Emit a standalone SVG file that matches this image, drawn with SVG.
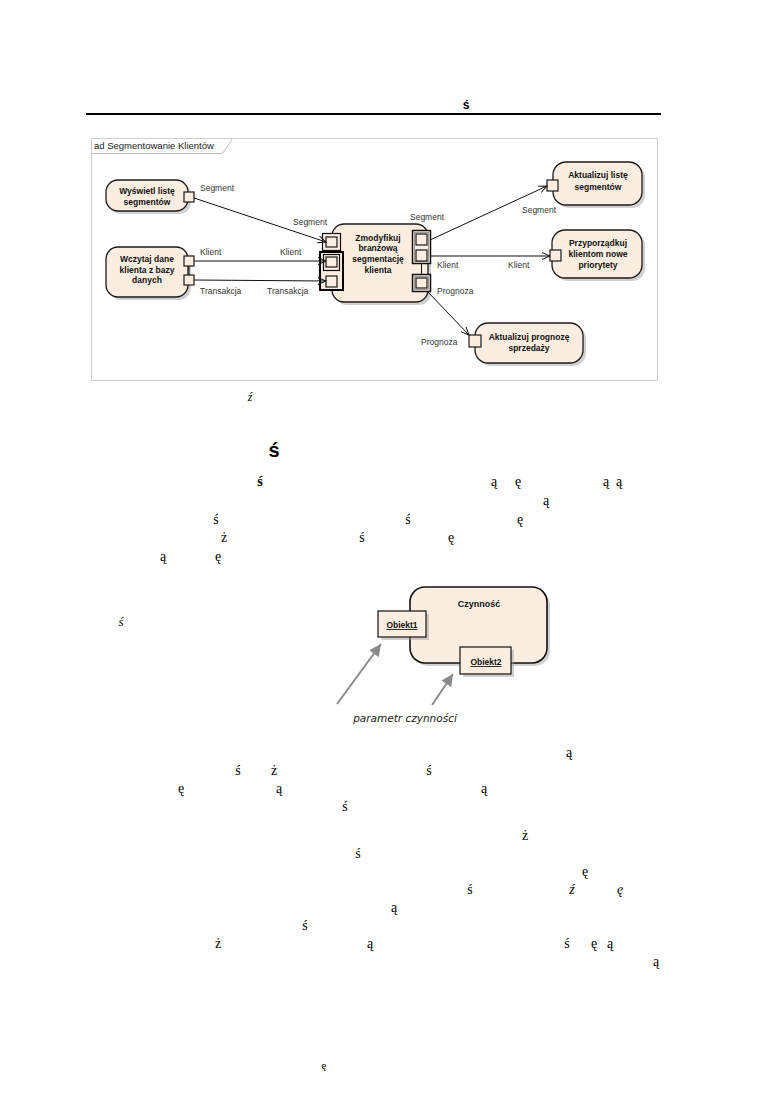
<svg xmlns="http://www.w3.org/2000/svg" width="774" height="1094" viewBox="0 0 774 1094">
<defs>
<marker id="open" markerWidth="10" markerHeight="10" refX="9" refY="4" orient="auto" markerUnits="userSpaceOnUse"><path d="M1,0.5 L9,4 L1,7.5" fill="none" stroke="#111" stroke-width="1"/></marker>
<marker id="tri" markerWidth="14" markerHeight="14" refX="12" refY="6" orient="auto" markerUnits="userSpaceOnUse"><path d="M0,0 L12,6 L0,12 Z" fill="#8a8a8a"/></marker>
<style>
.g{font-family:"Liberation Serif",serif;font-size:14px;fill:#000;text-anchor:middle}
.act{fill:#fbeee0;stroke:#1a1a1a;stroke-width:1.3}
.sh{fill:#9a9a9a;opacity:.45}
.nt{font-family:"Liberation Sans",Arial,sans-serif;font-size:8.5px;font-weight:bold;fill:#111;text-anchor:middle}
.lb{font-family:"Liberation Sans",Arial,sans-serif;font-size:8.5px;fill:#333}
.pin{fill:#fbeee0;stroke:#1a1a1a;stroke-width:1.2}
.set{fill:none;stroke:#111;stroke-width:1.2}
.edge{stroke:#111;stroke-width:1;fill:none}
.garr{stroke:#8a8a8a;stroke-width:2;fill:none}
</style>
</defs>
<rect x="0" y="0" width="774" height="1094" fill="#fff"/>

<g id="header">
<text x="466" y="109" font-family="Liberation Sans, Arial, sans-serif" font-size="12" font-weight="bold" text-anchor="middle">ś</text>
<rect x="86" y="113" width="575" height="2" fill="#000"/>
</g>

<g id="frame">
<rect x="91.5" y="138.5" width="566" height="242" fill="#fff" stroke="#cfcfcf"/>
<path d="M91.5,153.5 H222.5 L232.5,138.5" fill="none" stroke="#bdbdbd"/>
<text x="94" y="148.5" font-family="Liberation Sans, Arial, sans-serif" font-size="9.5" fill="#222">ad Segmentowanie Klientów</text>
</g>

<g id="node-wyswietl">
<rect class="sh" x="109" y="183" width="82" height="31" rx="12"/>
<rect class="act" x="106" y="180" width="82" height="31" rx="12"/>
<text class="nt" x="147" y="194">Wyświetl listę</text>
<text class="nt" x="147" y="204.5">segmentów</text>
<rect class="pin" x="184" y="192" width="10" height="10"/>
</g>

<g id="node-wczytaj">
<rect class="sh" x="109" y="250" width="82" height="50" rx="12"/>
<rect class="act" x="106" y="247" width="82" height="50" rx="12"/>
<text class="nt" x="147" y="262">Wczytaj dane</text>
<text class="nt" x="147" y="272.5">klienta z bazy</text>
<text class="nt" x="147" y="283">danych</text>
<line x1="189" y1="266" x2="189" y2="275" stroke="#111" stroke-width="1"/>
<rect class="pin" x="184" y="256" width="10" height="10"/>
<rect class="pin" x="184" y="275" width="10" height="10"/>
</g>

<g id="node-zmodyfikuj">
<rect class="sh" x="335" y="227" width="96" height="78" rx="12"/>
<rect class="act" x="332" y="224" width="96" height="78" rx="12"/>
<text class="nt" x="378" y="240.5">Zmodyfikuj</text>
<text class="nt" x="378" y="251">branżową</text>
<text class="nt" x="378" y="261.5">segmentację</text>
<text class="nt" x="378" y="273">klienta</text>
<rect x="322.5" y="233.5" width="18" height="17" fill="#fbeee0" stroke="#111" stroke-width="1.2"/>
<rect class="pin" x="326" y="237" width="11" height="10"/>
<rect x="320" y="252" width="23" height="38" fill="#fbeee0" stroke="#000" stroke-width="2"/>
<rect class="set" x="323.5" y="254.5" width="16" height="16"/>
<rect class="pin" x="326" y="257" width="11" height="10"/>
<rect class="pin" x="326" y="276" width="11" height="11"/>
<line x1="421.5" y1="263.5" x2="421.5" y2="274.5" stroke="#111" stroke-width="1"/>
<rect x="412.5" y="230.5" width="18" height="33" fill="#fbeee0" stroke="#111" stroke-width="1.5"/>
<rect x="414.5" y="232.5" width="14" height="29" fill="none" stroke="#888" stroke-width="0.8"/>
<rect class="pin" x="416" y="234" width="11" height="11"/>
<rect class="pin" x="416" y="250" width="11" height="11"/>
<rect x="412.5" y="274.5" width="18" height="17" fill="#fbeee0" stroke="#111" stroke-width="1.5"/>
<rect x="414.5" y="276.5" width="14" height="13" fill="none" stroke="#888" stroke-width="0.8"/>
<rect class="pin" x="416" y="278" width="11" height="10"/>
</g>

<g id="node-aktualizuj-liste">
<rect class="sh" x="556" y="165" width="89" height="43" rx="13"/>
<rect class="act" x="553" y="162" width="89" height="43" rx="13"/>
<text class="nt" x="598" y="178">Aktualizuj listę</text>
<text class="nt" x="598" y="189.5">segmentów</text>
<rect class="pin" x="547" y="180" width="11" height="11"/>
</g>

<g id="node-przyporzadkuj">
<rect class="sh" x="555" y="233" width="90" height="48" rx="13"/>
<rect class="act" x="552" y="230" width="90" height="48" rx="13"/>
<text class="nt" x="598" y="246">Przyporządkuj</text>
<text class="nt" x="598" y="257">klientom nowe</text>
<text class="nt" x="598" y="268">priorytety</text>
<rect class="pin" x="550" y="250" width="11" height="11"/>
</g>

<g id="node-prognoza">
<rect class="sh" x="478" y="326" width="108" height="40" rx="13"/>
<rect class="act" x="475" y="323" width="108" height="40" rx="13"/>
<text class="nt" x="529" y="340">Aktualizuj prognozę</text>
<text class="nt" x="529" y="350.5">sprzedaży</text>
<rect class="pin" x="469" y="335" width="12" height="12"/>
</g>

<g id="connectors">
<line class="edge" x1="194" y1="198" x2="326" y2="242" marker-end="url(#open)"/>
<line class="edge" x1="194" y1="261" x2="326" y2="261" marker-end="url(#open)"/>
<line class="edge" x1="194" y1="280" x2="326" y2="281" marker-end="url(#open)"/>
<line class="edge" x1="430" y1="240" x2="547" y2="186" marker-end="url(#open)"/>
<line class="edge" x1="430" y1="256" x2="550" y2="256" marker-end="url(#open)"/>
<line class="edge" x1="427" y1="291" x2="469" y2="335" marker-end="url(#open)"/>
<text class="lb" x="200" y="191">Segment</text>
<text class="lb" x="293" y="225">Segment</text>
<text class="lb" x="200" y="255">Klient</text>
<text class="lb" x="280" y="255">Klient</text>
<text class="lb" x="200" y="294">Transakcja</text>
<text class="lb" x="267" y="294">Transakcja</text>
<text class="lb" x="410" y="220">Segment</text>
<text class="lb" x="522" y="213">Segment</text>
<text class="lb" x="437" y="268">Klient</text>
<text class="lb" x="508" y="268">Klient</text>
<text class="lb" x="437" y="294">Prognoza</text>
<text class="lb" x="421" y="345">Prognoza</text>
</g>

<g id="caption1">
<text x="250" y="401" font-family="Liberation Serif, serif" font-size="12" font-style="italic" text-anchor="middle">ź</text>
</g>

<g id="heading">
<text x="274" y="457" font-family="Liberation Sans, Arial, sans-serif" font-size="20" font-weight="bold" text-anchor="middle">ś</text>
</g>

<g id="body1">
<text class="g" x="260" y="486" font-weight="bold">ś</text>
<text class="g" x="494" y="486">ą</text>
<text class="g" x="518" y="486">ę</text>
<text class="g" x="606" y="486">ą</text>
<text class="g" x="619" y="486">ą</text>
<text class="g" x="546" y="505">ą</text>
<text class="g" x="216" y="524">ś</text>
<text class="g" x="408" y="524">ś</text>
<text class="g" x="520" y="524">ę</text>
<text class="g" x="224" y="542">ż</text>
<text class="g" x="362" y="542">ś</text>
<text class="g" x="451" y="542">ę</text>
<text class="g" x="163" y="561">ą</text>
<text class="g" x="218" y="561">ę</text>
</g>

<g id="figure2">
<text x="121" y="626" font-family="Liberation Serif, serif" font-size="13" font-style="italic" text-anchor="middle">ś</text>
<rect class="sh" x="413" y="590" width="137" height="76" rx="15"/>
<rect x="410" y="587" width="137" height="76" rx="15" fill="#fbeee0" stroke="#111" stroke-width="1.6"/>
<text x="479" y="607" font-family="Liberation Sans, Arial, sans-serif" font-size="9" font-weight="bold" text-anchor="middle" fill="#111">Czynność</text>
<g id="obiekt1">
<rect class="sh" x="381" y="614" width="48" height="26"/>
<rect x="378" y="611" width="48" height="26" fill="#fbeee0" stroke="#111" stroke-width="1.2"/>
<text x="402" y="628" font-family="Liberation Sans, Arial, sans-serif" font-size="8.5" font-weight="bold" text-anchor="middle" text-decoration="underline" fill="#111">Obiekt1</text>
</g>
<g id="obiekt2">
<rect class="sh" x="463" y="650" width="51" height="27"/>
<rect x="460" y="647" width="51" height="27" fill="#fbeee0" stroke="#111" stroke-width="1.2"/>
<text x="486" y="665" font-family="Liberation Sans, Arial, sans-serif" font-size="8.5" font-weight="bold" text-anchor="middle" text-decoration="underline" fill="#111">Obiekt2</text>
</g>
<g id="arrows2">
<line class="garr" x1="337" y1="704" x2="381" y2="644" marker-end="url(#tri)"/>
<line class="garr" x1="432" y1="705" x2="453" y2="674" marker-end="url(#tri)"/>
</g>
<text x="405" y="722" font-family="DejaVu Sans, sans-serif" font-size="10.5" font-style="italic" text-anchor="middle" fill="#222">parametr czynności</text>
</g>

<g id="body2">
<text class="g" x="569" y="757">ą</text>
<text class="g" x="238" y="775">ś</text>
<text class="g" x="274" y="775">ż</text>
<text class="g" x="429" y="775">ś</text>
<text class="g" x="181" y="793">ę</text>
<text class="g" x="279" y="793">ą</text>
<text class="g" x="484" y="793">ą</text>
<text class="g" x="345" y="811">ś</text>
<text class="g" x="525" y="840">ż</text>
<text class="g" x="358" y="858">ś</text>
<text class="g" x="585" y="876">ę</text>
<text class="g" x="470" y="894">ś</text>
<text class="g" x="572" y="894" font-style="italic">ź</text>
<text class="g" x="620" y="894" font-style="italic">ę</text>
<text class="g" x="394" y="912">ą</text>
<text class="g" x="305" y="930">ś</text>
<text class="g" x="218" y="948">ż</text>
<text class="g" x="370" y="948">ą</text>
<text class="g" x="567" y="948">ś</text>
<text class="g" x="594" y="948">ę</text>
<text class="g" x="610" y="948">ą</text>
<text class="g" x="656" y="966">ą</text>
</g>

<g id="footer">
<text x="324" y="1069" font-family="Liberation Serif, serif" font-size="11" text-anchor="middle">ę</text>
</g>
</svg>
